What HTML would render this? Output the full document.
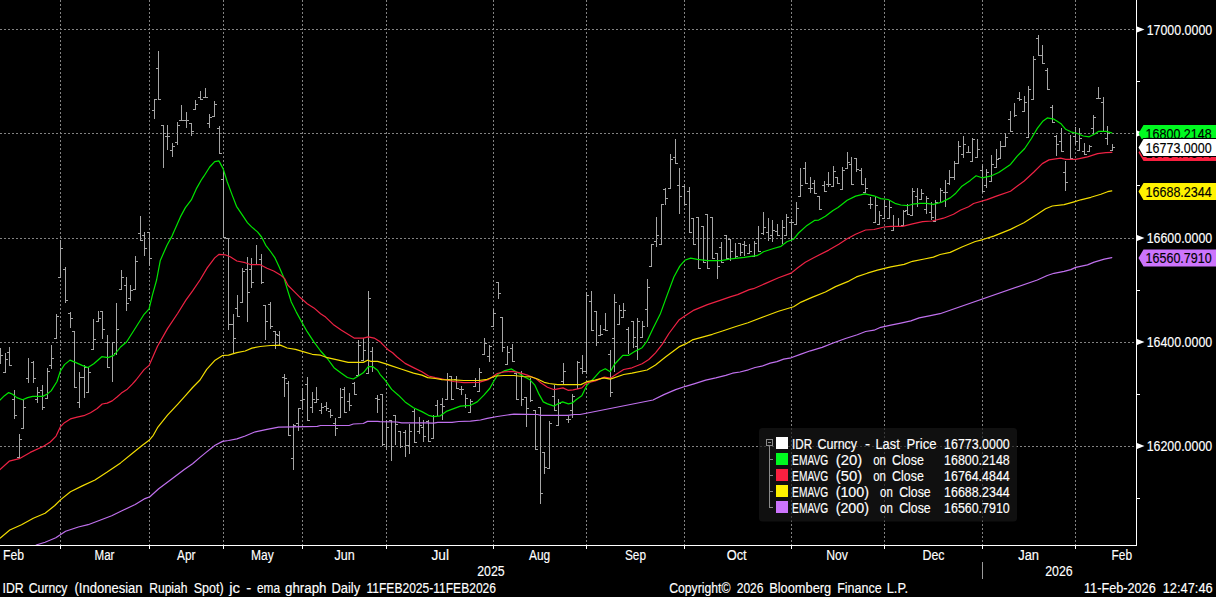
<!DOCTYPE html><html><head><meta charset="utf-8"><title>IDR Curncy</title>
<style>html,body{margin:0;padding:0;background:#000;overflow:hidden}svg{display:block}text{font-family:"Liberation Sans",sans-serif;font-size:14px;fill:#fff;stroke:#fff;stroke-width:.15px}</style></head><body>
<svg width="1216" height="597" viewBox="0 0 1216 597">
<rect width="1216" height="597" fill="#000"/>
<g stroke="#828282" stroke-width="1" stroke-dasharray="2 2" shape-rendering="crispEdges">
<line x1="60.5" y1="0" x2="60.5" y2="545"/>
<line x1="149.5" y1="0" x2="149.5" y2="545"/>
<line x1="223.5" y1="0" x2="223.5" y2="545"/>
<line x1="302.5" y1="0" x2="302.5" y2="545"/>
<line x1="386.5" y1="0" x2="386.5" y2="545"/>
<line x1="493.5" y1="0" x2="493.5" y2="545"/>
<line x1="586.5" y1="0" x2="586.5" y2="545"/>
<line x1="684.5" y1="0" x2="684.5" y2="545"/>
<line x1="791.5" y1="0" x2="791.5" y2="545"/>
<line x1="884.5" y1="0" x2="884.5" y2="545"/>
<line x1="982.5" y1="0" x2="982.5" y2="545"/>
<line x1="1075.5" y1="0" x2="1075.5" y2="545"/>
<line x1="0" y1="29.5" x2="1136" y2="29.5"/>
<line x1="0" y1="133.5" x2="1136" y2="133.5"/>
<line x1="0" y1="238.5" x2="1136" y2="238.5"/>
<line x1="0" y1="342.5" x2="1136" y2="342.5"/>
<line x1="0" y1="446.5" x2="1136" y2="446.5"/>
</g>
<g stroke="#a6a6a6" stroke-width="1" shape-rendering="crispEdges">
<path d="M0.5 348V364M0.5 355.5H3.0M5.5 353V373M3.0 372.5H5.5M5.5 359.5H8.0M9.5 347V366M7.0 352.5H9.5M9.5 365.5H12.0M14.5 390V419M12.0 399.5H14.5M14.5 415.5H17.0M19.5 434V458M17.0 457.5H19.5M19.5 439.5H22.0M23.5 400V429M21.0 428.5H23.5M23.5 407.5H26.0M28.5 358V383M26.0 378.5H28.5M33.5 361V383M31.0 362.5H33.5M33.5 378.5H36.0M37.5 387V403M35.0 399.5H37.5M37.5 392.5H40.0M42.5 385V410M40.0 390.5H42.5M42.5 407.5H45.0M47.5 368V399M45.0 398.5H47.5M47.5 371.5H50.0M51.5 345V369M49.0 365.5H51.5M51.5 358.5H54.0M56.5 314V339M54.0 338.5H56.5M56.5 316.5H59.0M60.5 240V278M58.0 277.5H60.5M60.5 248.5H63.0M65.5 267V303M63.0 269.5H65.5M65.5 300.5H68.0M70.5 312V328M68.0 313.5H70.5M70.5 318.5H73.0M74.5 331V388M72.0 331.5H74.5M74.5 387.5H77.0M79.5 372V408M77.0 402.5H79.5M79.5 377.5H82.0M84.5 365V398M82.0 377.5H84.5M84.5 367.5H87.0M88.5 367V393M86.0 392.5H88.5M88.5 372.5H91.0M93.5 319V350M91.0 349.5H93.5M93.5 339.5H96.0M98.5 311V322M96.0 321.5H98.5M98.5 318.5H101.0M102.5 311V339M100.0 311.5H102.5M102.5 329.5H105.0M107.5 335V368M105.0 342.5H107.5M107.5 367.5H110.0M112.5 342V382M112.5 342.5H115.0M116.5 303V355M114.0 353.5H116.5M116.5 329.5H119.0M121.5 270V290M119.0 289.5H121.5M121.5 277.5H124.0M126.5 277V311M124.0 285.5H126.5M126.5 303.5H129.0M130.5 285V301M128.0 298.5H130.5M130.5 290.5H133.0M135.5 256V290M133.0 289.5H135.5M135.5 261.5H138.0M140.5 216V241M138.0 233.5H140.5M140.5 240.5H143.0M144.5 232V256M142.0 235.5H144.5M144.5 248.5H147.0M149.5 232V266M147.0 232.5H149.5M149.5 258.5H152.0M154.5 99V119M152.0 110.5H154.5M154.5 99.5H157.0M158.5 51V100M156.0 68.5H158.5M158.5 99.5H161.0M163.5 125V168M161.0 125.5H163.5M163.5 133.5H166.0M167.5 125V150M165.0 136.5H167.5M167.5 136.5H170.0M172.5 143V157M170.0 150.5H172.5M172.5 146.5H175.0M177.5 122V145M175.0 142.5H177.5M177.5 125.5H180.0M181.5 105V121M179.0 120.5H181.5M181.5 120.5H184.0M186.5 112V128M184.0 120.5H186.5M186.5 120.5H189.0M191.5 123V136M189.0 123.5H191.5M191.5 131.5H194.0M195.5 100V110M193.0 109.5H195.5M195.5 104.5H198.0M200.5 91V100M198.0 97.5H200.5M200.5 99.5H203.0M205.5 88V98M203.0 97.5H205.5M205.5 97.5H208.0M209.5 114V128M207.0 123.5H209.5M209.5 117.5H212.0M214.5 101V117M212.0 116.5H214.5M214.5 104.5H217.0M219.5 126V154M217.0 128.5H219.5M219.5 153.5H222.0M223.5 169V238M221.0 179.5H223.5M223.5 237.5H226.0M228.5 238V330M226.0 238.5H228.5M228.5 324.5H231.0M233.5 314V354M231.0 324.5H233.5M233.5 338.5H236.0M237.5 295V317M235.0 308.5H237.5M237.5 316.5H240.0M242.5 268V303M240.0 302.5H242.5M242.5 271.5H245.0M247.5 257V322M245.0 269.5H247.5M247.5 292.5H250.0M251.5 258V288M249.0 269.5H251.5M251.5 282.5H254.0M256.5 245V265M261.5 254V284M259.0 259.5H261.5M261.5 282.5H264.0M265.5 305V340M263.0 305.5H265.5M265.5 321.5H268.0M270.5 302V329M268.0 304.5H270.5M270.5 326.5H273.0M275.5 331V349M273.0 331.5H275.5M275.5 334.5H278.0M279.5 331V345M277.0 335.5H279.5M284.5 374V397M282.0 377.5H284.5M284.5 378.5H287.0M288.5 381V436M286.0 383.5H288.5M288.5 435.5H291.0M293.5 424V470M291.0 458.5H293.5M293.5 425.5H296.0M298.5 408V431M296.0 423.5H298.5M298.5 408.5H301.0M302.5 388V410M300.0 400.5H302.5M302.5 399.5H305.0M307.5 377V421M305.0 384.5H307.5M307.5 420.5H310.0M312.5 392V413M310.0 407.5H312.5M312.5 399.5H315.0M316.5 387V403M314.0 402.5H316.5M316.5 399.5H319.0M321.5 403V414M319.0 410.5H321.5M321.5 407.5H324.0M326.5 402V411M324.0 406.5H326.5M326.5 408.5H329.0M330.5 409V418M328.0 411.5H330.5M330.5 415.5H333.0M335.5 418V436M333.0 423.5H335.5M335.5 428.5H338.0M340.5 388V418M338.0 417.5H340.5M340.5 397.5H343.0M344.5 387V413M342.0 389.5H344.5M344.5 412.5H347.0M349.5 393V411M347.0 401.5H349.5M349.5 405.5H352.0M354.5 382V395M352.0 383.5H354.5M354.5 394.5H357.0M358.5 340V376M356.0 375.5H358.5M358.5 345.5H361.0M363.5 338V361M361.0 360.5H363.5M363.5 350.5H366.0M368.5 291V374M366.0 373.5H368.5M368.5 298.5H371.0M372.5 347V372M370.0 351.5H372.5M377.5 395V413M375.0 398.5H377.5M377.5 399.5H380.0M382.5 394V446M380.0 394.5H382.5M382.5 444.5H385.0M386.5 420V450M386.5 427.5H389.0M391.5 420V461M389.0 420.5H391.5M391.5 446.5H394.0M395.5 415V445M393.0 415.5H395.5M395.5 424.5H398.0M400.5 431V448M398.0 431.5H400.5M400.5 446.5H403.0M405.5 430V457M403.0 432.5H405.5M405.5 445.5H408.0M409.5 424V454M407.0 445.5H409.5M409.5 431.5H412.0M414.5 409V443M412.0 411.5H414.5M414.5 442.5H417.0M419.5 417V434M417.0 431.5H419.5M419.5 425.5H422.0M423.5 420V442M421.0 427.5H423.5M423.5 436.5H426.0M428.5 420V442M426.0 421.5H428.5M428.5 441.5H431.0M433.5 415V439M431.0 438.5H433.5M433.5 416.5H436.0M437.5 400V416M435.0 405.5H437.5M442.5 398V420M440.0 404.5H442.5M442.5 406.5H445.0M447.5 373V400M445.0 399.5H447.5M447.5 379.5H450.0M451.5 376V400M449.0 376.5H451.5M451.5 399.5H454.0M456.5 376V389M454.0 379.5H456.5M456.5 388.5H459.0M461.5 386V395M459.0 389.5H461.5M461.5 389.5H464.0M465.5 394V408M465.5 398.5H468.0M470.5 399V413M468.0 412.5H470.5M470.5 401.5H473.0M475.5 378V387M473.0 386.5H475.5M479.5 368V392M477.0 391.5H479.5M479.5 372.5H482.0M484.5 338V355M482.0 354.5H484.5M484.5 343.5H487.0M489.5 345V362M487.0 356.5H489.5M489.5 346.5H492.0M493.5 309V327M491.0 326.5H493.5M493.5 313.5H496.0M498.5 282V299M496.0 282.5H498.5M498.5 293.5H501.0M502.5 317V352M500.0 317.5H502.5M502.5 347.5H505.0M507.5 346V365M505.0 364.5H507.5M507.5 352.5H510.0M512.5 344V362M510.0 348.5H512.5M512.5 361.5H515.0M516.5 373V400M514.0 373.5H516.5M516.5 399.5H519.0M521.5 371V406M521.5 399.5H524.0M526.5 397V427M524.0 397.5H526.5M526.5 408.5H529.0M530.5 378V402M530.5 400.5H533.0M535.5 410V450M533.0 410.5H535.5M535.5 449.5H538.0M540.5 407V504M538.0 407.5H540.5M540.5 493.5H543.0M544.5 452V474M542.0 452.5H544.5M544.5 467.5H547.0M549.5 421V469M547.0 468.5H549.5M549.5 423.5H552.0M554.5 385V411M552.0 396.5H554.5M554.5 410.5H557.0M558.5 399V426M556.0 425.5H558.5M558.5 403.5H561.0M563.5 363V385M561.0 381.5H563.5M563.5 371.5H566.0M568.5 416V423M566.0 419.5H568.5M568.5 419.5H571.0M572.5 394V418M570.0 410.5H572.5M572.5 396.5H575.0M577.5 361V389M577.5 362.5H580.0M582.5 355V374M580.0 368.5H582.5M582.5 371.5H585.0M586.5 292V374M584.0 371.5H586.5M586.5 295.5H589.0M591.5 291V331M589.0 301.5H591.5M591.5 330.5H594.0M596.5 311V346M594.0 311.5H596.5M596.5 342.5H599.0M600.5 325V336M598.0 335.5H600.5M600.5 334.5H603.0M605.5 313V331M603.0 329.5H605.5M605.5 330.5H608.0M610.5 350V397M608.0 354.5H610.5M610.5 392.5H613.0M614.5 294V372M612.0 338.5H614.5M614.5 302.5H617.0M619.5 305V325M617.0 324.5H619.5M619.5 310.5H622.0M623.5 303V318M621.0 317.5H623.5M623.5 310.5H626.0M628.5 327V354M626.0 329.5H628.5M633.5 321V348M631.0 321.5H633.5M633.5 337.5H636.0M637.5 318V360M635.0 346.5H637.5M637.5 321.5H640.0M642.5 321V338M640.0 337.5H642.5M642.5 326.5H645.0M647.5 279V327M645.0 309.5H647.5M647.5 287.5H650.0M651.5 244V267M649.0 266.5H651.5M651.5 244.5H654.0M656.5 217V247M654.0 241.5H656.5M656.5 235.5H659.0M661.5 204V245M659.0 244.5H661.5M661.5 204.5H664.0M665.5 188V205M663.0 189.5H665.5M665.5 198.5H668.0M670.5 154V189M668.0 188.5H670.5M670.5 159.5H673.0M675.5 139V164M673.0 157.5H675.5M675.5 163.5H678.0M679.5 168V214M677.0 185.5H679.5M679.5 196.5H682.0M684.5 184V205M682.0 186.5H684.5M684.5 204.5H687.0M689.5 187V233M687.0 191.5H689.5M689.5 232.5H692.0M693.5 218V245M691.0 218.5H693.5M693.5 244.5H696.0M698.5 217V269M696.0 217.5H698.5M698.5 268.5H701.0M703.5 226V263M701.0 226.5H703.5M703.5 262.5H706.0M707.5 214V269M705.0 214.5H707.5M707.5 268.5H710.0M712.5 217V259M710.0 217.5H712.5M712.5 258.5H715.0M717.5 253V279M715.0 253.5H717.5M717.5 266.5H720.0M721.5 242V263M719.0 247.5H721.5M721.5 262.5H724.0M726.5 235V259M724.0 235.5H726.5M726.5 258.5H729.0M730.5 239V261M728.0 239.5H730.5M730.5 251.5H733.0M735.5 243V259M735.5 256.5H738.0M740.5 243V256M738.0 243.5H740.5M740.5 252.5H743.0M744.5 241V256M742.0 244.5H744.5M744.5 245.5H747.0M749.5 244V254M747.0 253.5H749.5M749.5 251.5H752.0M754.5 241V257M752.0 256.5H754.5M754.5 243.5H757.0M758.5 226V252M756.0 238.5H758.5M758.5 251.5H761.0M763.5 212V235M761.0 233.5H763.5M763.5 227.5H766.0M768.5 218V241M766.0 232.5H768.5M768.5 238.5H771.0M772.5 220V242M770.0 235.5H772.5M772.5 230.5H775.0M777.5 224V236M775.0 231.5H777.5M777.5 235.5H780.0M782.5 220V244M782.5 227.5H785.0M786.5 214V236M784.0 235.5H786.5M786.5 217.5H789.0M791.5 219V240M789.0 222.5H791.5M791.5 222.5H794.0M796.5 202V225M794.0 224.5H796.5M796.5 208.5H799.0M800.5 168V197M798.0 196.5H800.5M800.5 185.5H803.0M805.5 162V184M803.0 168.5H805.5M805.5 183.5H808.0M810.5 177V193M808.0 188.5H810.5M810.5 188.5H813.0M814.5 180V194M812.0 183.5H814.5M814.5 193.5H817.0M819.5 196V210M817.0 196.5H819.5M819.5 209.5H822.0M824.5 181V192M822.0 185.5H824.5M824.5 191.5H827.0M828.5 172V187M826.0 184.5H828.5M828.5 184.5H831.0M833.5 166V187M831.0 186.5H833.5M833.5 171.5H836.0M837.5 177V184M835.0 177.5H837.5M837.5 183.5H840.0M842.5 167V190M840.0 189.5H842.5M842.5 170.5H845.0M847.5 152V169M845.0 168.5H847.5M847.5 162.5H850.0M851.5 157V185M849.0 164.5H851.5M851.5 184.5H854.0M856.5 158V172M854.0 158.5H856.5M856.5 169.5H859.0M861.5 168V185M859.0 170.5H861.5M861.5 184.5H864.0M865.5 178V193M863.0 192.5H865.5M865.5 188.5H868.0M870.5 197V209M868.0 204.5H870.5M870.5 204.5H873.0M875.5 197V223M873.0 222.5H875.5M875.5 205.5H878.0M879.5 211V225M877.0 224.5H879.5M879.5 215.5H882.0M884.5 200V219M882.0 218.5H884.5M884.5 206.5H887.0M889.5 200V219M887.0 218.5H889.5M889.5 207.5H892.0M893.5 215V231M891.0 230.5H893.5M898.5 218V227M903.5 210V226M901.0 225.5H903.5M903.5 211.5H906.0M907.5 204V215M905.0 210.5H907.5M907.5 214.5H910.0M912.5 188V216M910.0 215.5H912.5M912.5 191.5H915.0M917.5 188V207M915.0 196.5H917.5M921.5 189V200M919.0 199.5H921.5M921.5 193.5H924.0M926.5 196V214M924.0 209.5H926.5M926.5 198.5H929.0M931.5 202V220M929.0 212.5H931.5M931.5 217.5H934.0M935.5 200V222M933.0 221.5H935.5M935.5 202.5H938.0M940.5 188V202M940.5 190.5H943.0M945.5 180V207M943.0 192.5H945.5M945.5 192.5H948.0M949.5 170V185M947.0 183.5H949.5M949.5 177.5H952.0M954.5 161V180M952.0 177.5H954.5M954.5 163.5H957.0M958.5 141V164M956.0 163.5H958.5M958.5 146.5H961.0M963.5 136V158M961.0 154.5H963.5M963.5 144.5H966.0M968.5 146V153M966.0 152.5H968.5M968.5 152.5H971.0M972.5 138V162M970.0 161.5H972.5M972.5 139.5H975.0M977.5 139V158M975.0 157.5H977.5M977.5 149.5H980.0M982.5 164V193M980.0 170.5H982.5M982.5 191.5H985.0M986.5 169V188M984.0 185.5H986.5M986.5 172.5H989.0M991.5 155V182M989.0 181.5H991.5M991.5 164.5H994.0M996.5 149V168M994.0 167.5H996.5M996.5 159.5H999.0M1000.5 141V159M998.0 158.5H1000.5M1000.5 146.5H1003.0M1005.5 133V147M1003.0 146.5H1005.5M1005.5 137.5H1008.0M1010.5 111V132M1008.0 119.5H1010.5M1010.5 131.5H1013.0M1014.5 103V117M1014.5 115.5H1017.0M1019.5 92V101M1017.0 98.5H1019.5M1019.5 99.5H1022.0M1024.5 96V112M1022.0 111.5H1024.5M1024.5 102.5H1027.0M1028.5 86V138M1026.0 137.5H1028.5M1028.5 89.5H1031.0M1033.5 56V100M1031.0 99.5H1033.5M1033.5 59.5H1036.0M1038.5 35V56M1036.0 38.5H1038.5M1038.5 55.5H1041.0M1042.5 45V64M1040.0 55.5H1042.5M1042.5 63.5H1045.0M1047.5 68V90M1045.0 70.5H1047.5M1047.5 89.5H1050.0M1052.5 105V123M1050.0 107.5H1052.5M1052.5 122.5H1055.0M1056.5 135V156M1054.0 136.5H1056.5M1056.5 144.5H1059.0M1061.5 128V152M1059.0 141.5H1061.5M1061.5 151.5H1064.0M1065.5 161V191M1063.0 172.5H1065.5M1065.5 182.5H1068.0M1070.5 135V159M1070.5 158.5H1073.0M1075.5 127V145M1073.0 136.5H1075.5M1075.5 141.5H1078.0M1079.5 128V151M1077.0 150.5H1079.5M1079.5 138.5H1082.0M1084.5 143V155M1082.0 151.5H1084.5M1084.5 154.5H1087.0M1089.5 145V152M1087.0 151.5H1089.5M1089.5 146.5H1092.0M1093.5 115V135M1091.0 128.5H1093.5M1093.5 117.5H1096.0M1098.5 87V99M1096.0 98.5H1098.5M1098.5 98.5H1101.0M1103.5 97V132M1101.0 102.5H1103.5M1107.5 126V145M1105.0 138.5H1107.5M1107.5 133.5H1110.0M1112.5 144V151M1110.0 150.5H1112.5M1112.5 147.5H1115.0" fill="none"/>
</g>
<polyline points="0.0,400.1 4.2,395.9 8.7,392.6 12.6,394.2 16.8,397.6 22.6,399.8 27.6,397.6 32.7,396.4 38.5,396.4 42.7,396.4 46.9,394.2 51.1,390.9 57.0,381.5 60.3,371.3 64.5,364.6 70.0,360.1 75.4,362.4 82.1,365.4 87.9,367.6 93.8,363.8 101.8,356.7 108.0,357.6 113.9,355.4 120.6,347.0 126.5,342.0 134.0,330.3 144.1,314.3 149.1,308.8 152.4,295.1 156.6,280.0 160.3,260.4 167.0,245.3 172.0,236.1 180.4,216.9 185.4,207.6 191.3,199.9 196.7,188.1 201.3,180.0 203.9,176.2 209.7,167.0 214.7,161.6 218.9,160.9 223.1,168.6 227.3,182.0 232.3,195.4 236.5,206.3 242.4,215.2 247.4,222.7 251.6,226.9 257.5,231.9 261.6,237.0 265.8,245.3 270.9,252.0 275.0,257.9 279.2,267.1 284.3,278.8 287.1,288.6 291.3,302.0 296.3,312.1 301.3,321.3 307.2,331.7 313.9,341.8 320.6,351.0 327.3,358.5 334.0,367.7 340.7,372.8 347.4,377.5 353.3,379.0 358.3,376.1 363.3,372.8 368.3,366.6 372.5,366.6 377.6,370.3 380.0,374.3 385.1,380.2 391.7,389.4 398.4,395.2 405.1,401.9 413.5,407.8 421.9,411.6 428.6,415.3 433.6,416.7 440.3,415.8 447.0,411.1 453.7,408.6 460.4,406.1 470.5,405.3 477.2,401.9 483.9,395.2 489.7,388.5 493.9,381.0 498.1,374.3 504.0,370.9 511.5,368.9 517.4,372.6 524.1,376.8 529.9,379.8 534.9,385.2 539.1,394.4 543.3,401.9 547.5,403.9 554.2,406.1 558.4,403.6 562.6,401.9 568.4,403.9 572.6,402.8 576.4,399.5 581.8,395.8 586.8,385.4 593.5,378.7 600.2,371.2 605.2,368.7 610.3,371.7 614.4,364.5 622.8,355.3 628.7,355.3 635.4,351.1 642.1,347.7 647.1,341.0 653.0,328.5 660.5,313.4 666.5,296.9 673.9,277.0 679.8,266.1 684.8,260.3 690.7,258.1 697.4,259.4 707.4,260.6 720.8,260.6 730.9,258.9 744.3,257.4 752.6,256.1 756.8,255.7 760.0,253.9 763.5,251.8 773.5,248.5 781.0,246.3 786.9,241.8 793.6,239.2 798.6,233.0 807.0,225.4 814.5,220.4 818.7,220.1 825.4,216.2 833.0,210.4 838.0,207.5 847.2,200.3 855.6,196.1 864.8,193.9 874.0,195.8 880.7,198.6 888.2,199.5 894.9,203.3 900.8,205.0 907.5,205.7 912.5,204.2 920.0,203.3 922.6,203.3 926.7,203.3 933.4,204.4 941.8,202.1 950.2,197.9 955.2,193.8 961.9,186.2 970.3,180.4 976.1,175.8 982.0,177.8 990.4,176.2 998.7,172.5 1010.5,164.4 1017.2,156.1 1024.7,148.5 1031.4,138.5 1037.3,128.4 1043.1,120.9 1047.3,117.9 1054.0,119.2 1060.7,123.4 1065.7,129.3 1070.8,131.8 1077.5,133.5 1083.3,136.0 1089.2,136.8 1094.2,134.3 1098.4,131.4 1105.9,131.4 1111.8,132.9" fill="none" stroke="#00e600" stroke-width="1.2" stroke-linejoin="round" stroke-linecap="round"/>
<polyline points="0.0,469.6 9.2,461.2 19.3,458.7 30.2,452.4 43.6,446.2 50.3,442.0 56.1,436.1 60.3,426.9 64.5,422.7 70.4,418.9 77.1,417.2 83.8,415.7 90.5,412.7 97.2,408.5 102.2,404.0 107.2,403.1 112.2,400.9 117.3,396.8 121.4,393.1 127.3,389.2 132.3,384.2 136.0,380.0 144.1,369.6 149.1,365.4 157.5,346.2 167.5,328.6 177.6,313.5 185.9,300.1 192.6,290.9 200.0,280.0 207.2,267.9 214.7,257.9 219.1,254.3 225.1,254.8 230.2,256.8 236.9,261.0 245.2,262.7 251.1,264.7 260.3,264.7 267.0,268.2 273.7,271.0 280.4,274.9 284.6,278.6 287.9,285.3 293.8,291.1 300.5,297.8 307.2,303.7 313.9,307.9 320.6,313.8 325.6,317.1 333.2,324.4 341.5,330.3 354.1,338.1 363.3,338.1 368.3,336.8 374.2,338.1 380.1,341.8 385.9,347.6 388.4,350.0 392.6,352.7 396.8,356.7 405.1,363.4 413.5,367.6 421.9,371.8 428.6,376.0 435.3,377.6 443.7,379.3 453.7,381.5 463.8,382.7 478.8,382.3 488.9,379.3 497.3,373.5 504.0,371.8 512.3,371.4 519.0,372.6 527.4,375.1 535.8,378.5 540.8,382.7 547.5,387.2 554.2,389.7 563.0,387.9 568.0,390.3 573.0,389.9 577.7,388.9 581.8,387.9 586.8,382.9 595.2,380.9 604.4,377.1 610.3,378.2 617.0,373.7 623.7,369.5 632.0,367.8 642.1,363.7 648.8,359.5 655.5,352.8 662.2,344.4 668.9,333.5 678.9,320.1 685.6,315.4 694.0,310.1 707.4,304.6 720.8,300.1 730.9,296.6 737.6,294.6 749.3,289.6 753.4,288.7 765.1,283.6 778.5,277.8 791.1,273.1 797.8,267.7 805.3,262.2 813.7,257.7 828.8,250.1 838.8,244.3 847.2,238.7 855.6,234.2 865.6,230.0 874.0,229.5 884.1,227.0 890.8,226.3 902.5,226.3 912.5,223.8 922.6,221.7 932.2,221.0 943.5,218.2 953.5,214.3 960.2,210.2 968.6,206.8 973.6,203.5 987.0,199.6 997.1,195.9 1010.5,191.2 1023.9,181.2 1033.9,172.0 1042.3,163.6 1049.0,159.9 1060.7,158.1 1065.7,159.4 1075.8,159.4 1087.5,156.9 1097.6,153.6 1105.9,152.7 1111.8,152.4" fill="none" stroke="#ee2244" stroke-width="1.2" stroke-linejoin="round" stroke-linecap="round"/>
<polyline points="0.0,538.2 9.8,530.0 21.5,524.7 33.3,518.2 45.1,513.3 54.8,505.5 60.7,499.6 70.5,491.8 82.3,485.9 95.0,480.0 107.2,472.1 120.6,462.9 134.0,452.0 142.4,445.3 149.1,440.3 153.3,435.3 157.5,427.7 167.5,415.2 177.6,404.3 185.9,395.1 192.6,387.5 200.0,380.0 206.7,369.4 215.1,360.2 222.6,355.5 228.5,355.2 236.9,352.7 245.2,351.0 251.9,348.1 260.3,346.5 270.4,345.5 280.4,345.1 287.1,348.0 295.5,349.3 303.9,351.8 312.2,354.3 320.6,355.2 327.3,357.7 337.4,359.9 348.2,362.4 363.3,362.4 367.5,360.2 370.9,361.4 377.6,361.4 385.9,363.9 390.1,365.4 401.8,369.3 413.5,373.1 421.9,375.1 427.7,377.6 435.3,378.5 442.0,379.6 453.7,379.8 463.8,380.5 478.8,380.5 487.2,379.3 495.6,376.0 504.0,375.5 514.0,375.5 522.4,376.5 530.8,376.8 537.5,379.0 544.2,382.3 549.2,383.5 557.6,384.7 580.9,384.6 586.8,381.7 595.2,380.1 603.6,377.9 610.3,379.1 623.7,374.5 632.0,373.2 647.1,370.0 655.5,365.0 665.5,357.0 678.9,346.9 685.6,343.9 692.3,339.9 702.4,337.2 712.4,334.3 722.5,331.0 735.9,326.5 748.0,322.7 765.1,316.3 778.5,311.3 793.6,306.7 801.1,302.1 812.0,297.4 825.4,292.0 835.5,286.6 848.9,281.1 856.4,276.9 867.3,273.2 877.4,270.2 890.8,266.9 904.2,264.4 912.5,261.3 924.3,259.0 933.4,257.1 940.1,254.5 950.2,252.4 961.9,247.0 975.3,241.5 982.0,239.8 993.7,236.1 1010.5,229.4 1023.9,222.7 1037.3,214.3 1045.6,208.8 1052.3,206.0 1064.1,204.6 1074.1,201.8 1080.8,199.8 1090.9,197.3 1100.9,194.2 1107.6,191.7 1111.8,190.9" fill="none" stroke="#f2dc00" stroke-width="1.2" stroke-linejoin="round" stroke-linecap="round"/>
<polyline points="36.2,545.0 45.1,542.3 55.8,537.8 65.6,531.3 78.4,527.0 88.1,524.7 99.9,520.2 111.7,515.8 121.4,511.0 135.2,504.5 145.0,498.6 149.9,496.7 158.7,488.8 170.4,480.0 184.3,469.6 192.6,463.8 200.0,457.4 206.7,451.9 215.1,445.2 222.6,441.4 228.5,440.5 236.9,438.9 245.2,436.0 255.3,431.8 267.0,429.3 278.7,427.1 293.8,426.8 317.3,426.3 320.6,425.5 349.1,425.5 353.3,424.0 363.3,423.5 367.5,421.4 377.6,421.4 380.0,421.7 396.8,422.0 401.8,422.9 425.2,422.9 433.6,423.2 437.8,422.4 452.0,422.4 458.7,421.5 470.5,421.2 480.5,420.0 487.2,418.3 497.3,416.5 507.3,415.0 514.0,414.2 537.5,414.5 540.8,415.3 567.6,415.3 574.3,414.5 580.0,414.5 653.0,400.0 663.9,394.6 675.6,389.6 685.6,386.3 694.0,383.8 705.7,380.1 715.8,377.9 725.8,375.4 732.5,373.2 740.0,372.0 748.4,369.8 755.1,367.5 761.8,366.2 770.2,363.1 776.9,361.6 783.6,359.1 791.1,357.8 800.3,354.4 810.4,350.8 822.1,347.4 833.8,342.7 845.5,338.5 857.3,334.7 865.6,331.5 874.0,330.2 880.7,327.3 890.8,325.1 900.8,323.1 910.9,320.9 919.2,317.9 929.3,315.9 940.0,313.7 1037.3,280.0 1047.3,275.5 1054.0,273.3 1064.1,271.3 1070.8,269.6 1075.8,267.4 1087.5,264.9 1094.2,262.1 1104.3,259.1 1111.8,257.6" fill="none" stroke="#c070ee" stroke-width="1.2" stroke-linejoin="round" stroke-linecap="round"/>
<g fill="#fff" shape-rendering="crispEdges">
<rect x="1136" y="0" width="1" height="546"/>
<rect x="0" y="545" width="1137" height="1"/>
<rect x="60" y="546" width="1" height="3"/>
<rect x="149" y="546" width="1" height="3"/>
<rect x="223" y="546" width="1" height="3"/>
<rect x="302" y="546" width="1" height="3"/>
<rect x="386" y="546" width="1" height="3"/>
<rect x="493" y="546" width="1" height="3"/>
<rect x="586" y="546" width="1" height="3"/>
<rect x="684" y="546" width="1" height="3"/>
<rect x="791" y="546" width="1" height="3"/>
<rect x="884" y="546" width="1" height="3"/>
<rect x="982" y="546" width="1" height="3"/>
<rect x="1075" y="546" width="1" height="3"/>
<rect x="1137" y="81" width="3" height="1"/>
<rect x="1137" y="185" width="3" height="1"/>
<rect x="1137" y="290" width="3" height="1"/>
<rect x="1137" y="394" width="3" height="1"/>
<rect x="1137" y="498" width="3" height="1"/>
</g>
<polygon points="1137,26.5 1144.5,29.5 1137,32.5" fill="#fff"/>
<polygon points="1137,130.5 1144.5,133.5 1137,136.5" fill="#fff"/>
<polygon points="1137,235 1144.5,238 1137,241" fill="#fff"/>
<polygon points="1137,339 1144.5,342 1137,345" fill="#fff"/>
<polygon points="1137,443 1144.5,446 1137,449" fill="#fff"/>
<text x="1146.7" y="34.7" textLength="65.5" lengthAdjust="spacingAndGlyphs">17000.0000</text>
<text x="1146.7" y="243.2" textLength="65.5" lengthAdjust="spacingAndGlyphs">16600.0000</text>
<text x="1146.7" y="347.2" textLength="65.5" lengthAdjust="spacingAndGlyphs">16400.0000</text>
<text x="1146.7" y="451.2" textLength="65.5" lengthAdjust="spacingAndGlyphs">16200.0000</text>
<polygon points="1138.5,258 1143.5,249.5 1217,249.5 1217,266.5 1143.5,266.5" fill="#cc74fc"/><text x="1145.6" y="263.2" textLength="66" lengthAdjust="spacingAndGlyphs" style="fill:#000;stroke:#000">16560.7910</text>
<polygon points="1138.5,191.6 1143.5,183.1 1217,183.1 1217,200.1 1143.5,200.1" fill="#fff200"/><text x="1145.6" y="196.79999999999998" textLength="66" lengthAdjust="spacingAndGlyphs" style="fill:#000;stroke:#000">16688.2344</text>
<polygon points="1138.5,152.4 1143.5,143.9 1217,143.9 1217,160.9 1143.5,160.9" fill="#fa2040"/><text x="1145.6" y="157.6" textLength="66" lengthAdjust="spacingAndGlyphs" style="fill:#000;stroke:#000">16764.4844</text>
<polygon points="1138.5,133.5 1143.5,125.0 1217,125.0 1217,142.0 1143.5,142.0" fill="#00fa20"/><text x="1145.6" y="138.7" textLength="66" lengthAdjust="spacingAndGlyphs" style="fill:#000;stroke:#000">16800.2148</text>
<polygon points="1137.3,147.5 1143,138.0 1217,138.0 1217,157.0 1143,157.0" fill="#000"/><polygon points="1138.5,147.5 1143.5,139.0 1217,139.0 1217,156.0 1143.5,156.0" fill="#ffffff"/><text x="1145.6" y="152.7" textLength="66" lengthAdjust="spacingAndGlyphs" style="fill:#000;stroke:#000">16773.0000</text>
<text x="3" y="560" textLength="21" lengthAdjust="spacingAndGlyphs">Feb</text>
<text x="94.5" y="560" textLength="20.0" lengthAdjust="spacingAndGlyphs">Mar</text>
<text x="177" y="560" textLength="18.5" lengthAdjust="spacingAndGlyphs">Apr</text>
<text x="251" y="560" textLength="22.7" lengthAdjust="spacingAndGlyphs">May</text>
<text x="334.5" y="560" textLength="20.2" lengthAdjust="spacingAndGlyphs">Jun</text>
<text x="431.5" y="560" textLength="17.5" lengthAdjust="spacingAndGlyphs">Jul</text>
<text x="529" y="560" textLength="21.2" lengthAdjust="spacingAndGlyphs">Aug</text>
<text x="625" y="560" textLength="21" lengthAdjust="spacingAndGlyphs">Sep</text>
<text x="726.7" y="560" textLength="20.0" lengthAdjust="spacingAndGlyphs">Oct</text>
<text x="826.2" y="560" textLength="21.8" lengthAdjust="spacingAndGlyphs">Nov</text>
<text x="922.5" y="560" textLength="22.0" lengthAdjust="spacingAndGlyphs">Dec</text>
<text x="1018.2" y="560" textLength="20.8" lengthAdjust="spacingAndGlyphs">Jan</text>
<text x="1111.5" y="560" textLength="20.5" lengthAdjust="spacingAndGlyphs">Feb</text>
<text x="477.2" y="575.7" textLength="27.5" lengthAdjust="spacingAndGlyphs">2025</text>
<text x="1045.2" y="575.7" textLength="27.5" lengthAdjust="spacingAndGlyphs">2026</text>
<rect x="982" y="562" width="1" height="17" fill="#999" shape-rendering="crispEdges"/>
<text x="2.5" y="592.5" textLength="21.2" lengthAdjust="spacingAndGlyphs">IDR</text><text x="28.7" y="592.5" textLength="38.8" lengthAdjust="spacingAndGlyphs">Curncy</text><text x="74.5" y="592.5" textLength="68.0" lengthAdjust="spacingAndGlyphs">(Indonesian</text><text x="149.2" y="592.5" textLength="38.3" lengthAdjust="spacingAndGlyphs">Rupiah</text><text x="193.7" y="592.5" textLength="30.0" lengthAdjust="spacingAndGlyphs">Spot)</text><text x="229.2" y="592.5" textLength="10.8" lengthAdjust="spacingAndGlyphs">jc</text><text x="246.2" y="592.5" textLength="5.0" lengthAdjust="spacingAndGlyphs">-</text><text x="257" y="592.5" textLength="23" lengthAdjust="spacingAndGlyphs">ema</text><text x="285" y="592.5" textLength="41.5" lengthAdjust="spacingAndGlyphs">ghraph</text><text x="331.5" y="592.5" textLength="28.7" lengthAdjust="spacingAndGlyphs">Daily</text><text x="366.5" y="592.5" textLength="129.5" lengthAdjust="spacingAndGlyphs">11FEB2025-11FEB2026</text>
<text x="669.2" y="592.5" textLength="61.3" lengthAdjust="spacingAndGlyphs">Copyright©</text><text x="736.7" y="592.5" textLength="26.8" lengthAdjust="spacingAndGlyphs">2026</text><text x="769.2" y="592.5" textLength="62.0" lengthAdjust="spacingAndGlyphs">Bloomberg</text><text x="837.2" y="592.5" textLength="44.5" lengthAdjust="spacingAndGlyphs">Finance</text><text x="886.7" y="592.5" textLength="21.3" lengthAdjust="spacingAndGlyphs">L.P.</text>
<text x="1084" y="592.5" textLength="71.7" lengthAdjust="spacingAndGlyphs">11-Feb-2026</text><text x="1162.7" y="592.5" textLength="50.0" lengthAdjust="spacingAndGlyphs">12:47:46</text>
<rect x="759" y="428" width="258" height="93.5" rx="3.5" fill="#181818" fill-opacity="0.68"/>
<g stroke="#8a8a8a" stroke-width="1" fill="none" shape-rendering="crispEdges"><rect x="766.5" y="439.5" width="6" height="6"/><path d="M768 442.5H771M769.5 446V507.5H773M769.5 459.5H773M769.5 475.5H773M769.5 491.5H773"/></g>
<rect x="776" y="437" width="12" height="12" fill="#ffffff"/>
<text x="792.1" y="449" textLength="20.1" lengthAdjust="spacingAndGlyphs">IDR</text><text x="817.5" y="449" textLength="39.6" lengthAdjust="spacingAndGlyphs">Curncy</text><text x="865.1" y="449" textLength="5.1" lengthAdjust="spacingAndGlyphs">-</text><text x="875.5" y="449" textLength="24.2" lengthAdjust="spacingAndGlyphs">Last</text><text x="906.6" y="449" textLength="29.9" lengthAdjust="spacingAndGlyphs">Price</text>
<text x="944.1" y="449" textLength="65.6" lengthAdjust="spacingAndGlyphs">16773.0000</text>
<rect x="776" y="453" width="12" height="12" fill="#00fa20"/>
<text x="792.1" y="465" textLength="36.2" lengthAdjust="spacingAndGlyphs">EMAVG</text><text x="835.7" y="465" textLength="26.4" lengthAdjust="spacingAndGlyphs">(20)</text><text x="873.2" y="465" textLength="12.7" lengthAdjust="spacingAndGlyphs">on</text><text x="892.1" y="465" textLength="31.7" lengthAdjust="spacingAndGlyphs">Close</text>
<text x="944.1" y="465" textLength="65.6" lengthAdjust="spacingAndGlyphs">16800.2148</text>
<rect x="776" y="469" width="12" height="12" fill="#fa2040"/>
<text x="792.1" y="481" textLength="36.2" lengthAdjust="spacingAndGlyphs">EMAVG</text><text x="835.7" y="481" textLength="26.4" lengthAdjust="spacingAndGlyphs">(50)</text><text x="873.2" y="481" textLength="12.7" lengthAdjust="spacingAndGlyphs">on</text><text x="892.1" y="481" textLength="31.7" lengthAdjust="spacingAndGlyphs">Close</text>
<text x="944.1" y="481" textLength="65.6" lengthAdjust="spacingAndGlyphs">16764.4844</text>
<rect x="776" y="485" width="12" height="12" fill="#fff200"/>
<text x="792.1" y="497" textLength="36.2" lengthAdjust="spacingAndGlyphs">EMAVG</text><text x="835.7" y="497" textLength="33.3" lengthAdjust="spacingAndGlyphs">(100)</text><text x="880.1" y="497" textLength="12.7" lengthAdjust="spacingAndGlyphs">on</text><text x="899.2" y="497" textLength="31.5" lengthAdjust="spacingAndGlyphs">Close</text>
<text x="944.1" y="497" textLength="65.6" lengthAdjust="spacingAndGlyphs">16688.2344</text>
<rect x="776" y="501" width="12" height="12" fill="#cc74fc"/>
<text x="792.1" y="513" textLength="36.2" lengthAdjust="spacingAndGlyphs">EMAVG</text><text x="835.7" y="513" textLength="33.3" lengthAdjust="spacingAndGlyphs">(200)</text><text x="880.1" y="513" textLength="12.7" lengthAdjust="spacingAndGlyphs">on</text><text x="899.2" y="513" textLength="31.5" lengthAdjust="spacingAndGlyphs">Close</text>
<text x="944.1" y="513" textLength="65.6" lengthAdjust="spacingAndGlyphs">16560.7910</text>
</svg></body></html>
